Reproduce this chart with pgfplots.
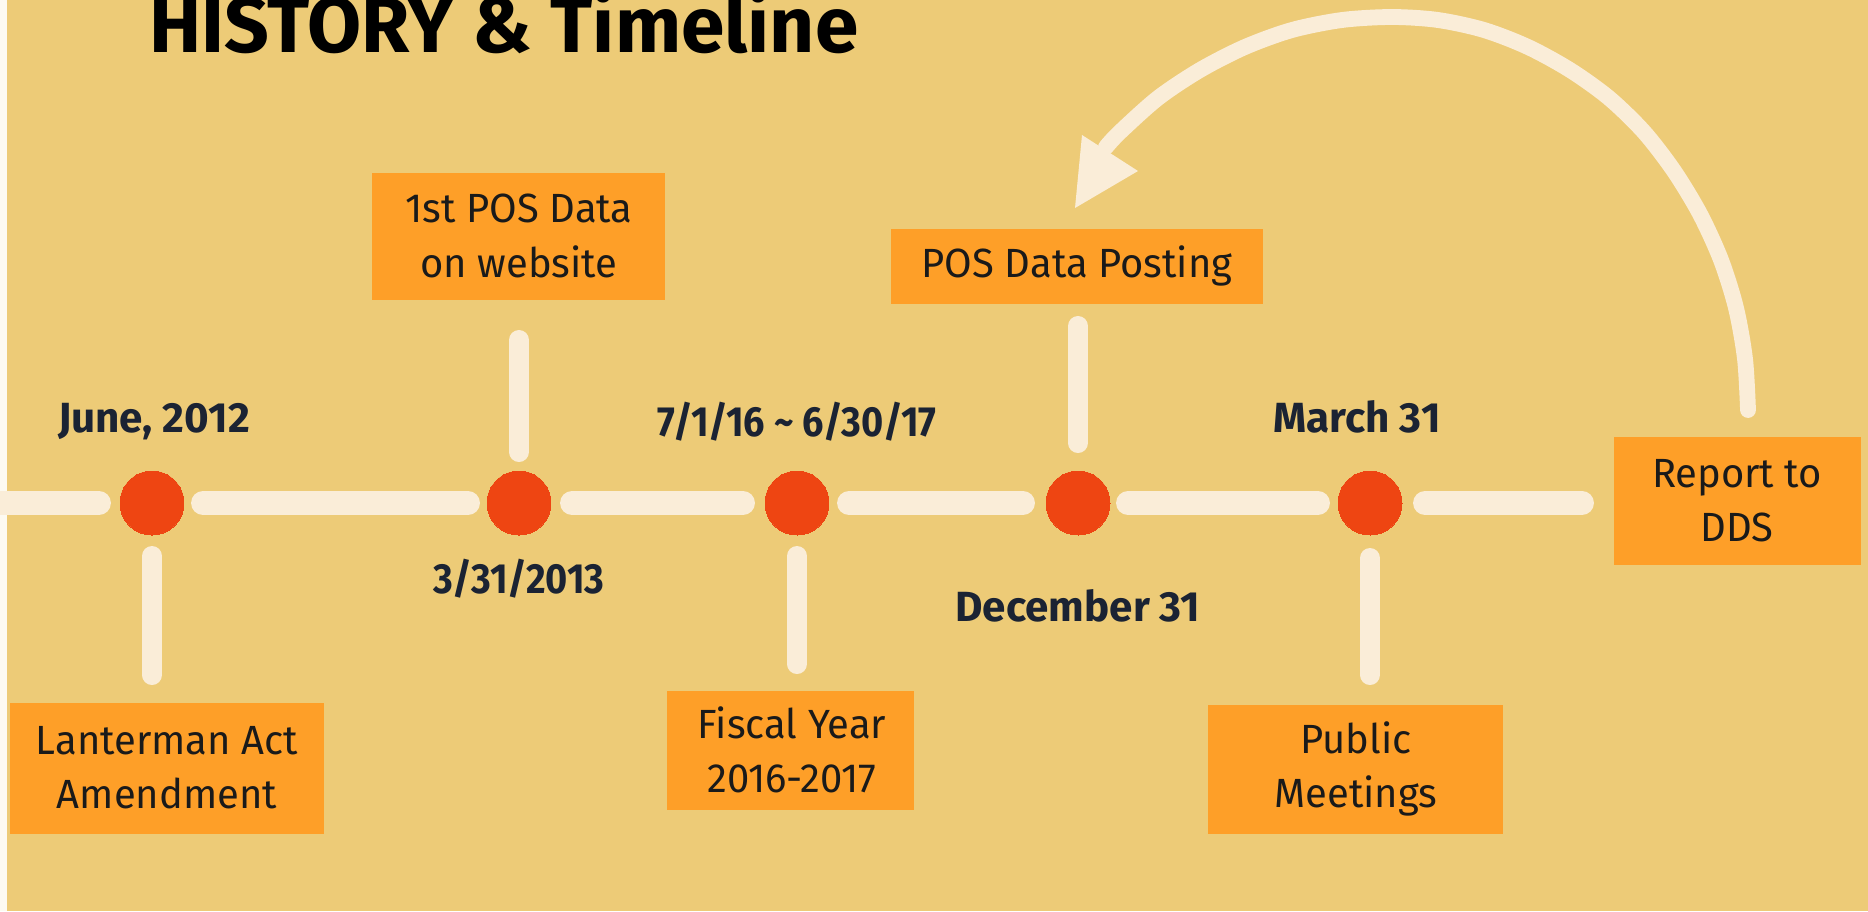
\documentclass[border=0pt]{standalone}
\usepackage{fontspec}
\setmainfont{Fira Sans}
\newfontfamily\boxfont[FakeStretch=0.98]{Fira Sans}
\newfontfamily\titlefont{Fira Sans}
\newfontfamily\datefont[Numbers=Proportional]{Fira Sans}
\newfontfamily\numfont[Numbers=Proportional, FakeStretch=0.9]{Fira Sans}
\usepackage{pgfplots}
\pgfplotsset{compat=1.18}
\definecolor{bg}{RGB}{237,203,119}
\definecolor{cream}{RGB}{250,237,216}
\definecolor{dotc}{RGB}{238,69,18}
\definecolor{boxc}{RGB}{254,159,40}
\definecolor{navy}{RGB}{27,35,51}
\definecolor{textc}{RGB}{26,26,26}
\begin{document}
\begin{tikzpicture}
\begin{axis}[at={(0,0)}, anchor=south west, scale only axis,
  width=18.68cm, height=9.11cm, xmin=0, xmax=1868, ymin=0, ymax=911,
  y dir=reverse, hide axis, clip=true]
% background
\fill[bg] (0,0) rectangle (1868,911);
\fill[white!90!bg] (0,0) rectangle (7,911);
% timeline segments
\addplot[cream, line width=6.8pt, line cap=butt, mark=none] coordinates {(0,503) (60,503)};
\addplot[cream, line width=6.8pt, line cap=round, mark=none] coordinates {(20,503) (99,503)};
\addplot[cream, line width=6.8pt, line cap=round, mark=none] coordinates {(203,503) (468,503)};
\addplot[cream, line width=6.8pt, line cap=round, mark=none] coordinates {(572,503) (743,503)};
\addplot[cream, line width=6.8pt, line cap=round, mark=none] coordinates {(849,503) (1023,503)};
\addplot[cream, line width=6.8pt, line cap=round, mark=none] coordinates {(1128,503) (1318,503)};
\addplot[cream, line width=6.8pt, line cap=round, mark=none] coordinates {(1425,503) (1582,503)};
% stubs
\addplot[cream, line width=5.7pt, line cap=round, mark=none] coordinates {(152,556) (152,675)};
\addplot[cream, line width=5.7pt, line cap=round, mark=none] coordinates {(519,340) (519,452)};
\addplot[cream, line width=5.7pt, line cap=round, mark=none] coordinates {(797,556) (797,664)};
\addplot[cream, line width=5.7pt, line cap=round, mark=none] coordinates {(1078,326) (1078,443)};
\addplot[cream, line width=5.7pt, line cap=round, mark=none] coordinates {(1370,558) (1370,675)};
% dots
\addplot[only marks, color=dotc, mark=*, mark size=9.1pt, mark options={fill=dotc, draw=dotc, line width=0pt}]
  coordinates {(152,503) (519,503) (797,503) (1078,503) (1370,503)};
% arrow
\addplot[cream, line width=4.5pt, smooth, line cap=round, line join=round, mark=none] coordinates {
  (1748,410) (1745,359) (1736,308) (1721,260) (1700,214) (1674,171) (1644,132)
  (1609,98) (1570,70) (1528,47) (1484,30) (1438,20) (1392,17) (1342,20)
  (1292,30) (1245,47) (1200,70) (1158,98) (1120,132) (1106,147)};
\addplot[fill=cream, draw=none, mark=none] coordinates {(1075,208) (1082,135) (1138,171)};
% boxes
\fill[boxc] (10,703) rectangle (324,834);
\fill[boxc] (372,173) rectangle (665,300);
\fill[boxc] (667,691) rectangle (914,810);
\fill[boxc] (891,229) rectangle (1263,304);
\fill[boxc] (1208,705) rectangle (1503,834);
\fill[boxc] (1614,437) rectangle (1861,565);
% box texts
\tikzset{bt/.style={text=textc, align=center, anchor=center, font=\boxfont\fontsize{11.6}{15.4}\selectfont}}
\node[bt] at (167,768) {Lanterman Act\\Amendment};
\node[bt] at (519,236) {1st POS Data\\on website};
\node[bt] at (792,750) {Fiscal Year\\2016-2017};
\node[bt] at (1077,266) {POS Data Posting};
\node[bt] at (1356,769) {Public\\Meetings};
\node[bt] at (1737,501) {Report to\\DDS};
% dates
\tikzset{dt/.style={text=navy, anchor=base, font=\datefont\bfseries\fontsize{12}{14}\selectfont},
         nt/.style={text=navy, anchor=base, font=\numfont\bfseries\fontsize{12}{14}\selectfont}}
\node[dt] at (154,432) {June, 2012};
\node[nt] at (519,593) {3/31/2013};
\node[nt] at (797,436) {7/1/16 \textasciitilde{} 6/30/17};
\node[dt] at (1078,621) {December 31};
\node[dt] at (1357,432) {March 31};
% title
\node[anchor=base west, text=black, font=\titlefont\bfseries\fontsize{22.3}{26}\selectfont] at (137,52) {HISTORY \& Timeline};
\end{axis}
\pgfresetboundingbox
\useasboundingbox (0,0) rectangle (18.68cm,9.11cm);
\end{tikzpicture}
\end{document}
